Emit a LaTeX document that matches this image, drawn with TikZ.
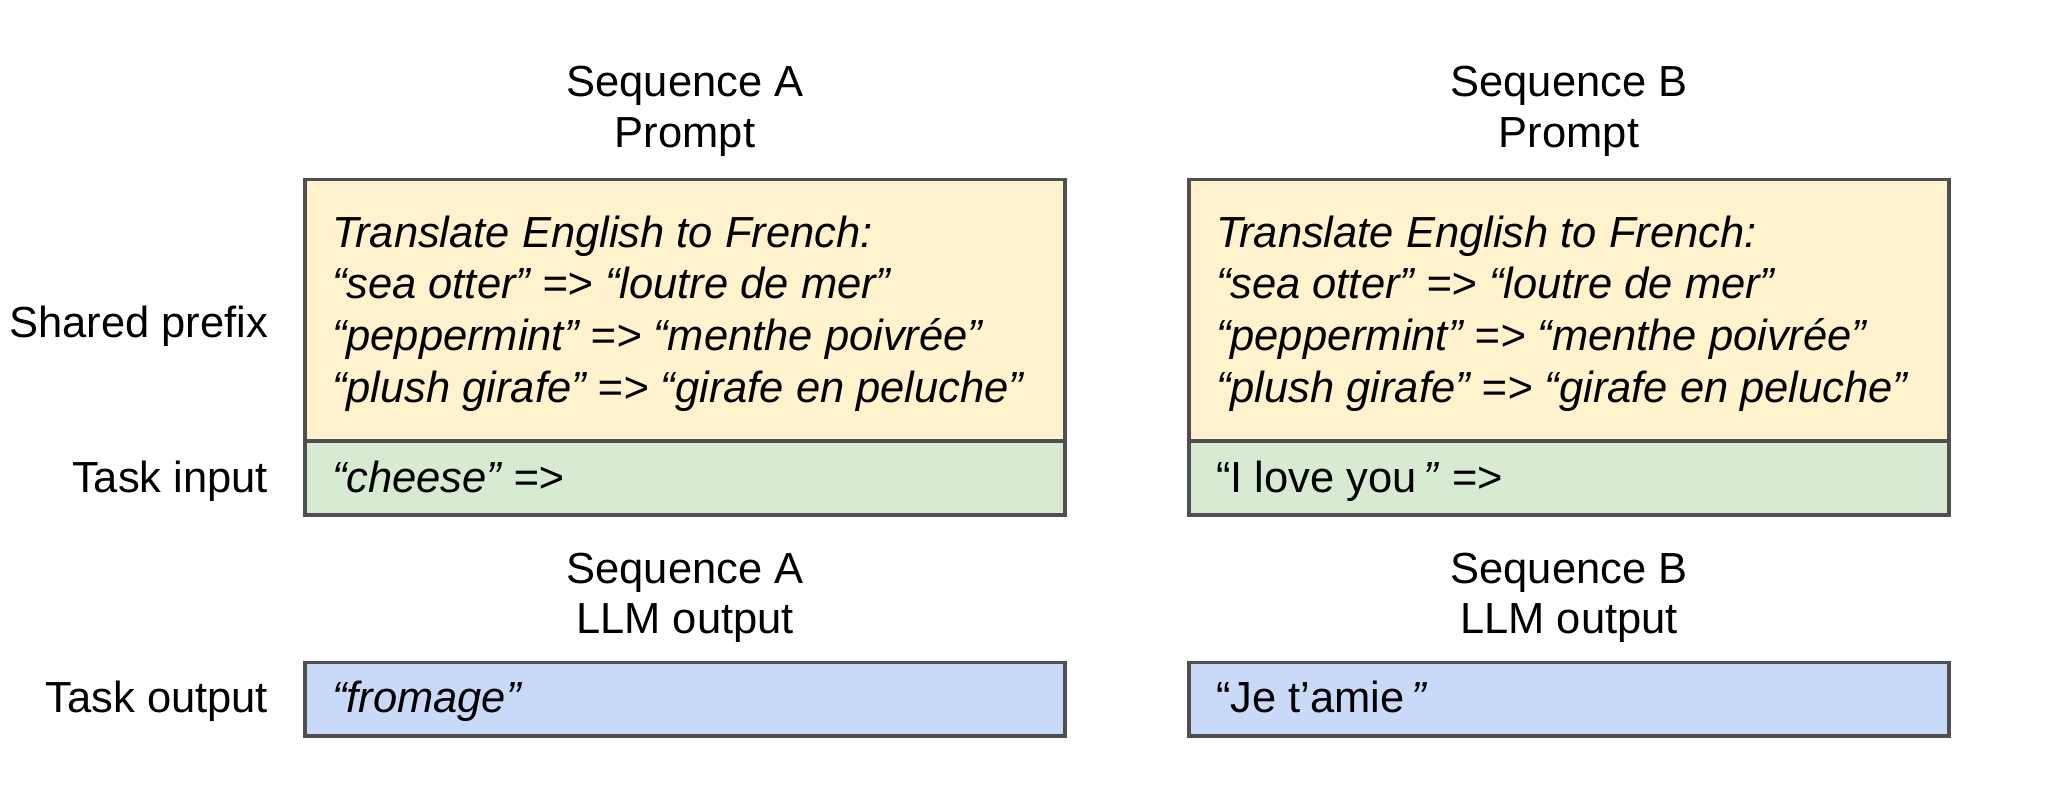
\documentclass[tikz,border=0pt]{standalone}
\usepackage{fontspec}
\setmainfont{Liberation Sans}
\definecolor{yel}{HTML}{FFF2CC}
\definecolor{grn}{HTML}{D9EAD3}
\definecolor{blu}{HTML}{C9DAF8}
\definecolor{edgegray}{HTML}{4F4F4F}
\begin{document}
\begin{tikzpicture}[x=0.5pt,y=-0.5pt,
  txt/.style={font=\fontsize{21.75pt}{26pt}\selectfont, inner sep=0pt, outer sep=0pt},
  itx/.style={font=\fontsize{21.75pt}{26pt}\selectfont\itshape, inner sep=0pt, outer sep=0pt},
  panel/.style={draw=edgegray, line width=1.8pt, minimum width=380pt, inner sep=0pt, outer sep=0pt, anchor=north west},
]
\useasboundingbox (0,0) rectangle (2066,792);

% Panels A
\node[panel, fill=yel, minimum height=130.75pt] (preA) at (305,179.5) {};
\node[panel, fill=grn, minimum height=37pt] (inA) at (preA.south west) {};
\node[panel, fill=blu, minimum height=36.75pt] (outA) at (305,662.5) {};
% Panels B
\node[panel, fill=yel, minimum height=130.75pt] (preB) at (1189,179.5) {};
\node[panel, fill=grn, minimum height=37pt] (inB) at (preB.south west) {};
\node[panel, fill=blu, minimum height=36.75pt] (outB) at (1189,662.5) {};

% Headers
\node[txt, anchor=base] (hA1) at (685,97) {Sequence A};
\node[txt, anchor=base] (hA2) at (685,148) {Prompt};
\node[txt, anchor=base] (hB1) at (1569,97) {Sequence B};
\node[txt, anchor=base] (hB2) at (1569,148) {Prompt};
\node[txt, anchor=base] (oA1) at (685,583) {Sequence A};
\node[txt, anchor=base] (oA2) at (685,633) {LLM output};
\node[txt, anchor=base] (oB1) at (1569,583) {Sequence B};
\node[txt, anchor=base] (oB2) at (1569,633) {LLM output};

% Row labels
\node[txt, anchor=base east] (lpre) at (268,337) {Shared prefix};
\node[txt, anchor=base east] (lin) at (268,492) {Task input};
\node[txt, anchor=base east] (lout) at (268,712) {Task output};

% Prefix texts A
\node[itx, anchor=base west] (pA1) at (332,247) {Translate English to French:};
\node[itx, anchor=base west] (pA2) at (332,298) {“sea otter” => “loutre de mer”};
\node[itx, anchor=base west] (pA3) at (332,350) {“peppermint” => “menthe poivrée”};
\node[itx, anchor=base west] (pA4) at (332,402) {“plush girafe” => “girafe en peluche”};
% Prefix texts B
\node[itx, anchor=base west] (pB1) at (1216,247) {Translate English to French:};
\node[itx, anchor=base west] (pB2) at (1216,298) {“sea otter” => “loutre de mer”};
\node[itx, anchor=base west] (pB3) at (1216,350) {“peppermint” => “menthe poivrée”};
\node[itx, anchor=base west] (pB4) at (1216,402) {“plush girafe” => “girafe en peluche”};

% Task inputs
\node[itx, anchor=base west] (tiA) at (332,492) {“cheese” =>};
\node[txt, anchor=base west] (tiB) at (1216,492) {“I love you\textit{\,”} =>};

% Task outputs
\node[itx, anchor=base west] (toA) at (332,712) {“fromage”};
\node[txt, anchor=base west] (toB) at (1216,712) {“Je t’amie\textit{\,”}};
\end{tikzpicture}
\end{document}
